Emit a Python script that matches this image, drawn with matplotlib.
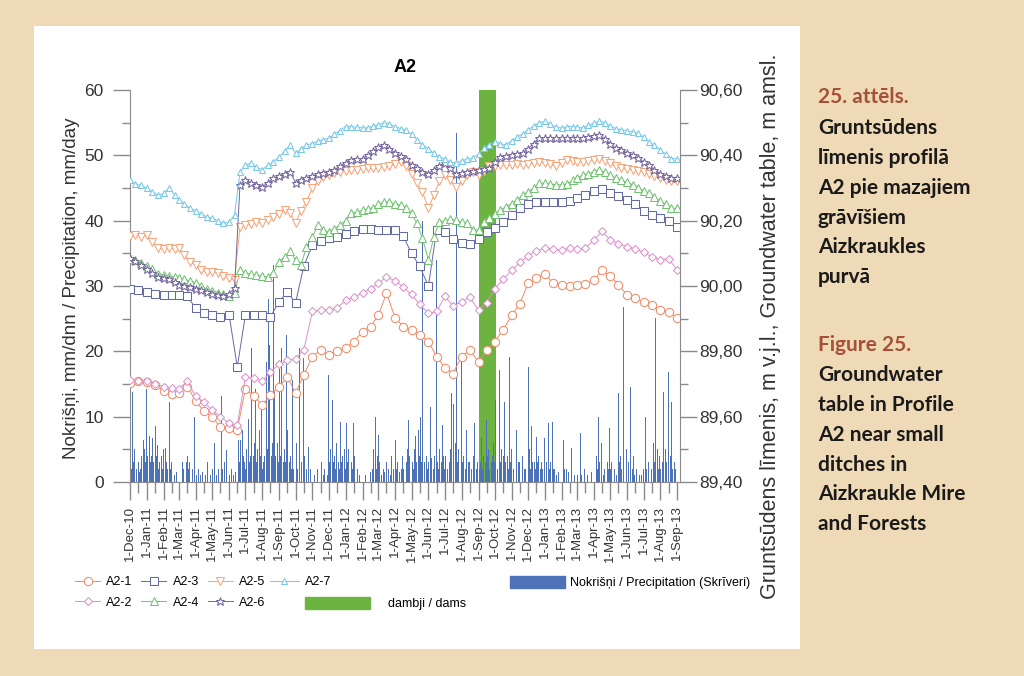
import matplotlib
matplotlib.use("Agg")
import matplotlib.pyplot as plt
import matplotlib.dates as mdates
from matplotlib.ticker import MultipleLocator, FuncFormatter
from matplotlib.lines import Line2D
from matplotlib.patches import Patch, Rectangle
import pandas as pd

plt.rcParams['font.family'] = ['Liberation Sans', 'DejaVu Sans']

# ---------------- data ----------------
month_starts = pd.date_range("2010-12-01", "2013-08-01", freq="MS")
semi_dates = [d + pd.Timedelta(days=k) for d in month_starts for k in (0, 15)] + [pd.Timestamp("2013-09-01")]
dec_dates = [d + pd.Timedelta(days=k) for d in month_starts for k in (0, 10, 20)] + [pd.Timestamp("2013-09-01")]

# groundwater table, m a.s.l. (semi-monthly readings)
a2_1 = [89.704, 89.708, 89.706, 89.696, 89.680, 89.668, 89.672, 89.692, 89.648, 89.616,
        89.600, 89.568, 89.564, 89.560, 89.686, 89.662, 89.636, 89.666, 89.692, 89.722,
        89.672, 89.728, 89.784, 89.804, 89.788, 89.800, 89.810, 89.830, 89.860, 89.876,
        89.910, 89.978, 89.902, 89.876, 89.864, 89.850, 89.830, 89.784, 89.750, 89.732,
        89.784, 89.804, 89.768, 89.804, 89.830, 89.866, 89.910, 89.946, 90.008, 90.024,
        90.038, 90.008, 90.004, 90.000, 90.004, 90.006, 90.018, 90.048, 90.030, 90.004,
        89.972, 89.962, 89.952, 89.942, 89.926, 89.920, 89.902]
a2_2 = [89.712, 89.710, 89.708, 89.700, 89.692, 89.688, 89.686, 89.708, 89.662, 89.644,
        89.620, 89.600, 89.580, 89.574, 89.722, 89.718, 89.708, 89.738, 89.760, 89.772,
        89.778, 89.804, 89.922, 89.926, 89.928, 89.932, 89.956, 89.966, 89.978, 89.992,
        90.008, 90.028, 90.016, 89.996, 89.974, 89.944, 89.916, 89.922, 89.968, 89.940,
        89.950, 89.966, 89.926, 89.948, 89.992, 90.020, 90.048, 90.072, 90.092, 90.108,
        90.116, 90.112, 90.110, 90.116, 90.112, 90.116, 90.140, 90.168, 90.140, 90.130,
        90.120, 90.114, 90.104, 90.090, 90.080, 90.084, 90.048]
a2_3 = [89.992, 89.988, 89.982, 89.976, 89.972, 89.972, 89.972, 89.968, 89.932, 89.918,
        89.910, 89.906, 89.912, 89.752, 89.912, 89.912, 89.912, 89.906, 89.952, 89.982,
        89.948, 90.060, 90.126, 90.138, 90.146, 90.150, 90.160, 90.168, 90.176, 90.174,
        90.172, 90.172, 90.172, 90.152, 90.100, 90.060, 90.000, 90.170, 90.166, 90.144,
        90.132, 90.130, 90.144, 90.166, 90.178, 90.196, 90.216, 90.240, 90.250, 90.256,
        90.258, 90.258, 90.258, 90.260, 90.270, 90.280, 90.292, 90.298, 90.284, 90.274,
        90.264, 90.250, 90.230, 90.218, 90.208, 90.200, 90.182]
# (10-day readings)
a2_4 = [90.084, 90.080, 90.070, 90.060, 90.052, 90.038, 90.034, 90.030, 90.028,
        90.024, 90.020, 90.016, 90.010, 90.000, 89.990, 89.986, 89.980, 89.974,
        89.970, 89.978, 90.048, 90.040, 90.036, 90.034, 90.030, 90.028, 90.040,
        90.074, 90.090, 90.106, 90.080, 90.064, 90.120, 90.150, 90.186, 90.170,
        90.166, 90.176, 90.186, 90.200, 90.222, 90.226, 90.232, 90.236, 90.240,
        90.250, 90.258, 90.256, 90.252, 90.248, 90.240, 90.222, 90.192, 90.146,
        90.080, 90.150, 90.196, 90.200, 90.204, 90.202, 90.196, 90.192, 90.172,
        90.172, 90.196, 90.208, 90.220, 90.232, 90.242, 90.252, 90.264, 90.278,
        90.288, 90.300, 90.314, 90.316, 90.312, 90.310, 90.310, 90.312, 90.324,
        90.330, 90.340, 90.344, 90.350, 90.356, 90.348, 90.340, 90.330, 90.324,
        90.318, 90.310, 90.300, 90.292, 90.284, 90.272, 90.260, 90.250, 90.238,
        90.238]
a2_5 = [90.152, 90.156, 90.150, 90.156, 90.136, 90.116, 90.112, 90.116, 90.114,
        90.116, 90.096, 90.074, 90.064, 90.048, 90.044, 90.042, 90.040, 90.032,
        90.024, 90.018, 90.182, 90.186, 90.190, 90.196, 90.192, 90.202, 90.212,
        90.220, 90.232, 90.224, 90.192, 90.230, 90.258, 90.300, 90.320, 90.334,
        90.340, 90.346, 90.350, 90.352, 90.356, 90.356, 90.358, 90.360, 90.360,
        90.362, 90.364, 90.366, 90.372, 90.380, 90.368, 90.344, 90.316, 90.288,
        90.238, 90.278, 90.320, 90.340, 90.324, 90.304, 90.320, 90.340, 90.350,
        90.340, 90.352, 90.366, 90.368, 90.370, 90.370, 90.370, 90.372, 90.370,
        90.372, 90.376, 90.380, 90.376, 90.372, 90.366, 90.376, 90.386, 90.382,
        90.380, 90.380, 90.384, 90.386, 90.390, 90.384, 90.376, 90.366, 90.360,
        90.358, 90.356, 90.352, 90.348, 90.344, 90.336, 90.332, 90.326, 90.320,
        90.320]
a2_6 = [90.086, 90.076, 90.064, 90.052, 90.040, 90.028, 90.024, 90.020, 90.012,
        90.004, 90.000, 89.996, 89.992, 89.988, 89.982, 89.976, 89.972, 89.968,
        89.976, 89.994, 90.310, 90.324, 90.316, 90.310, 90.304, 90.316, 90.330,
        90.336, 90.344, 90.350, 90.316, 90.324, 90.330, 90.336, 90.342, 90.346,
        90.350, 90.356, 90.366, 90.376, 90.386, 90.388, 90.390, 90.400, 90.412,
        90.424, 90.432, 90.420, 90.408, 90.398, 90.388, 90.370, 90.360, 90.350,
        90.344, 90.356, 90.368, 90.376, 90.360, 90.344, 90.346, 90.350, 90.352,
        90.356, 90.358, 90.360, 90.380, 90.396, 90.398, 90.400, 90.404, 90.406,
        90.420, 90.436, 90.452, 90.452, 90.452, 90.452, 90.452, 90.454, 90.452,
        90.452, 90.452, 90.456, 90.460, 90.462, 90.450, 90.436, 90.422, 90.416,
        90.408, 90.400, 90.392, 90.380, 90.370, 90.356, 90.344, 90.336, 90.330,
        90.330]
a2_7 = [90.324, 90.312, 90.308, 90.300, 90.288, 90.278, 90.284, 90.300, 90.278,
        90.264, 90.252, 90.238, 90.230, 90.220, 90.212, 90.208, 90.200, 90.192,
        90.196, 90.218, 90.350, 90.370, 90.376, 90.364, 90.356, 90.370, 90.380,
        90.396, 90.412, 90.432, 90.406, 90.420, 90.432, 90.436, 90.444, 90.448,
        90.452, 90.464, 90.476, 90.488, 90.488, 90.486, 90.484, 90.484, 90.490,
        90.494, 90.500, 90.496, 90.488, 90.482, 90.478, 90.464, 90.448, 90.432,
        90.420, 90.406, 90.396, 90.388, 90.380, 90.376, 90.384, 90.388, 90.392,
        90.404, 90.422, 90.432, 90.442, 90.436, 90.432, 90.444, 90.456, 90.466,
        90.478, 90.490, 90.500, 90.504, 90.496, 90.486, 90.484, 90.488, 90.488,
        90.486, 90.484, 90.492, 90.498, 90.504, 90.500, 90.490, 90.482, 90.478,
        90.476, 90.472, 90.468, 90.456, 90.440, 90.432, 90.416, 90.404, 90.390,
        90.390]

# daily precipitation, mm/day (Skrīveri): month -> (day, mm)
precip = {
    "2010-12": [(2, 4), (4, 2), (6, 13.8), (8, 3), (10, 5), (13, 2), (16, 3), (19, 1.5), (21, 2), (23, 4), (25, 6.5), (28, 5), (30, 3)],
    "2011-01": [(1, 14.3), (3, 4), (5, 7), (7, 3), (9, 4), (12, 6.7), (14, 3), (16, 8.5), (18, 4), (20, 5.6), (22, 2), (24, 3), (27, 4), (29, 2)],
    "2011-02": [(1, 5), (4, 5.2), (6, 3), (8, 2), (12, 12.3), (14, 2), (16, 3), (20, 1), (24, 1.5)],
    "2011-03": [(1, 1), (7, 3), (10, 2), (12, 4.9), (14, 3), (16, 4), (18, 2), (20, 3), (25, 2), (30, 10)],
    "2011-04": [(2, 1), (5, 2), (10, 1), (14, 1.5), (18, 1), (23, 3), (27, 1)],
    "2011-05": [(1, 2), (6, 5.9), (9, 1), (12, 2), (18, 13.1), (20, 2), (23, 3), (28, 4.9)],
    "2011-06": [(2, 1), (5, 2), (9, 1), (13, 1.5), (18, 6.4), (20, 3), (22, 6.4), (25, 8), (27, 4), (29, 3)],
    "2011-07": [(1, 2), (3, 5), (6, 9.7), (8, 3), (10, 4), (13, 20.5), (15, 4), (17, 6), (19, 14.3), (21, 3), (23, 5), (26, 8), (28, 4), (30, 11)],
    "2011-08": [(1, 2), (3, 3), (5, 4), (8, 18.4), (10, 5), (12, 28), (15, 21), (17, 4), (19, 6), (21, 33.2), (24, 14), (26, 4), (28, 6), (30, 3)],
    "2011-09": [(1, 18.4), (3, 4), (6, 20.5), (8, 3), (10, 5), (12, 3), (14, 22.5), (17, 8), (19, 3), (21, 4), (23, 2), (26, 15.6), (28, 2), (30, 3)],
    "2011-10": [(3, 6), (5, 2), (9, 20.5), (12, 3), (15, 19), (18, 4), (21, 2), (24, 5.4), (29, 2)],
    "2011-11": [(4, 1), (11, 2), (18, 3), (21, 1), (24, 2), (28, 1), (30, 16.4)],
    "2011-12": [(2, 3), (4, 5), (7, 12.6), (9, 3), (11, 4), (13, 2), (15, 6), (18, 3), (20, 2), (22, 9.2), (24, 3), (26, 4), (29, 5), (31, 2)],
    "2012-01": [(3, 9), (5, 3), (7, 5), (9, 2), (11, 3), (13, 2), (15, 9), (18, 4), (22, 2), (27, 1)],
    "2012-02": [(6, 1), (15, 1.5), (19, 2), (21, 5), (24, 10), (26, 2), (28, 4)],
    "2012-03": [(1, 7.2), (4, 3), (7, 1), (10, 2), (13, 1.5), (16, 3.1), (20, 2), (23, 1), (26, 4), (29, 2)],
    "2012-04": [(1, 6.4), (3, 2), (6, 3), (9, 1.5), (12, 2), (15, 4), (17, 2), (19, 15.6), (21, 3), (23, 5), (25, 9.5), (28, 4), (30, 2)],
    "2012-05": [(2, 3), (4, 2), (6, 5), (9, 7), (11, 3), (13, 8), (15, 4), (17, 10), (19, 3), (22, 40), (25, 3), (28, 4), (30, 2)],
    "2012-06": [(1, 3), (4, 11.5), (7, 3.6), (10, 2), (12, 4), (15, 34), (18, 3), (20, 2), (22, 5), (25, 3), (27, 8.7), (29, 4)],
    "2012-07": [(1, 2), (3, 4), (6, 2), (9, 3), (12, 5), (14, 13.6), (17, 12), (20, 6), (23, 53.4), (25, 3), (27, 5), (29, 2)],
    "2012-08": [(1, 18.4), (3, 3), (5, 4), (8, 2), (10, 8), (13, 3), (16, 3), (19, 2), (22, 4), (25, 9), (28, 2), (30, 3)],
    "2012-09": [(2, 2), (4, 3), (6, 6.9), (8, 2), (10, 4), (13, 3), (15, 9.5), (17, 4), (19, 5), (22, 2), (25, 3), (27, 4), (29, 6)],
    "2012-10": [(1, 3), (3, 12.6), (6, 2), (9, 17.1), (11, 3), (13, 5), (16, 4), (18, 12.3), (21, 3), (24, 4), (26, 2), (28, 19.2), (30, 3)],
    "2012-11": [(1, 5), (4, 2), (7, 9.2), (10, 8), (13, 3), (16, 3), (18, 2), (21, 4), (24, 2), (27, 2)],
    "2012-12": [(1, 17.6), (4, 5), (6, 2), (8, 8.5), (10, 3), (12, 3), (15, 2), (17, 6.9), (19, 3), (21, 4), (23, 2), (25, 3), (28, 2)],
    "2013-01": [(1, 6.7), (4, 3), (7, 9), (9, 2), (11, 3), (14, 9.2), (16, 2), (18, 2), (22, 1), (25, 1.5)],
    "2013-02": [(4, 6.4), (6, 2), (9, 2), (13, 1.5), (16, 1), (19, 5.2), (24, 1)],
    "2013-03": [(1, 1), (7, 7.5), (10, 1), (14, 2), (21, 1), (27, 1.5)],
    "2013-04": [(5, 4), (7, 2), (9, 10), (12, 3), (15, 5.9), (18, 1), (20, 2), (25, 3), (28, 2), (30, 8.2)],
    "2013-05": [(2, 2), (4, 3), (9, 2), (12, 1), (16, 13.6), (18, 3), (20, 4), (22, 2), (25, 26.8), (28, 2), (30, 5)],
    "2013-06": [(3, 3), (7, 14.6), (10, 2), (12, 4), (15, 1), (18, 2), (23, 1), (27, 1)],
    "2013-07": [(1, 2), (4, 10), (7, 2), (10, 3), (15, 2), (19, 6), (21, 3), (23, 25.1), (26, 5), (28, 2), (31, 4)],
    "2013-08": [(2, 2), (4, 3), (7, 13.8), (10, 5), (13, 3), (16, 16.9), (19, 4), (22, 12.3), (24, 2), (26, 3), (29, 2)],
}

dam_start = "2012-09-01"
dam_end = "2012-10-03"

labels = ["A2-1", "A2-2", "A2-3", "A2-4", "A2-5", "A2-6", "A2-7"]
values = [a2_1, a2_2, a2_3, a2_4, a2_5, a2_6, a2_7]
dates = [semi_dates, semi_dates, semi_dates, dec_dates, dec_dates, dec_dates, dec_dates]

# ---------------- styles ----------------
colors = ["#F08C68", "#D893CA", "#646AA2", "#74C274", "#F5A67A", "#74659F", "#78C8E8"]
markers = ["o", "D", "s", "^", "v", "*", "^"]
msizes = [6.0, 4.2, 6.2, 5.2, 5.2, 6.4, 4.0]
blue = "#4E72B8"
green = "#6DB33F"
grey = "#8a8a8a"
txt = "#333333"

fig = plt.figure(figsize=(10.24, 6.76), dpi=100)
fig.patch.set_facecolor("#EFDAB7")
fig.patches.append(Rectangle((34 / 1024, 27 / 676), 766 / 1024, 623 / 676,
                             transform=fig.transFigure, facecolor="white",
                             edgecolor="none", zorder=-1))

ax = fig.add_axes([130 / 1024, 194 / 676, 550 / 1024, 392 / 676])
ax2 = ax.twinx()

# dams period and precipitation
ax.axvspan(pd.Timestamp(dam_start), pd.Timestamp(dam_end), color=green, lw=0, zorder=1)
p_dates = [pd.Timestamp(f"{m}-{d:02d}") for m, lst in precip.items() for d, v in lst]
p_vals = [v for m, lst in precip.items() for d, v in lst]
ax.bar(p_dates, p_vals, width=1.8, color=blue, lw=0, zorder=2)

for lab, dts, vals, c, mk, ms in zip(labels, dates, values, colors, markers, msizes):
    ax2.plot(dts[:len(vals)], vals, color=c, lw=0.7, marker=mk, ms=ms,
             mfc="white", mec=c, mew=0.75, label=lab)

ax.set_xlim(pd.Timestamp("2010-12-01"), pd.Timestamp("2013-09-06"))
ax.set_ylim(0, 60)
ax2.set_ylim(89.40, 90.60)

ax.yaxis.set_major_locator(MultipleLocator(10))
ax.yaxis.set_minor_locator(MultipleLocator(5))
ax2.yaxis.set_major_locator(MultipleLocator(0.2))
ax2.yaxis.set_minor_locator(MultipleLocator(0.1))
ax2.yaxis.set_major_formatter(FuncFormatter(lambda v, p: f"{v:.2f}".replace(".", ",")))

ax.xaxis.set_major_locator(mdates.MonthLocator(bymonthday=1))
ax.xaxis.set_minor_locator(mdates.MonthLocator(bymonthday=16))
def fmt_date(v, p):
    d = mdates.num2date(v)
    return f"{d.day}-{d.strftime('%b')}-{d.strftime('%y')}"
ax.xaxis.set_major_formatter(FuncFormatter(fmt_date))

for s in ["top", "right"]:
    ax.spines[s].set_visible(False)
for s in ["top", "left", "bottom"]:
    ax2.spines[s].set_visible(False)
for s in ["left", "bottom"]:
    ax.spines[s].set_color(grey)
ax2.spines["right"].set_color(grey)

ax.tick_params(axis="y", which="major", length=12, width=1, color=grey,
               labelsize=12.5, labelcolor=txt, pad=7)
ax.tick_params(axis="y", which="minor", length=6, width=1, color=grey)
ax2.tick_params(axis="y", which="major", length=12, width=1, color=grey,
                labelsize=12.5, labelcolor=txt, pad=2)
ax2.tick_params(axis="y", which="minor", length=6, width=1, color=grey)
ax.tick_params(axis="x", which="major", length=13, width=1, color=grey,
               labelsize=9.5, labelcolor=txt, labelrotation=90, pad=4)
ax.tick_params(axis="x", which="minor", length=8, width=1, color=grey)

ax.set_title("A2", fontsize=13, fontweight="bold", pad=13)
ax.set_ylabel("Nokrišņi, mm/dnn / Precipitation, mm/day", fontsize=13.5,
              color=txt, ha="center", va="center")
ax.yaxis.set_label_coords(-0.107, 0.494)
ax2.set_ylabel("Gruntsūdens līmenis, m v.j.l., Groundwater table, m amsl.",
               fontsize=15.5, color=txt, ha="center", va="center", rotation=90)
ax2.yaxis.set_label_coords(1.164, 0.398)

# ---------------- legend ----------------
handles = [Line2D([], [], color=c, lw=0.7, marker=mk, ms=ms, mfc="white", mec=c, mew=0.75)
           for c, mk, ms in zip(colors, markers, msizes)]
common = dict(frameon=False, fontsize=9, borderpad=0, borderaxespad=0, loc="upper left")
row1 = 1 - 576 / 676
row2 = 1 - 597 / 676
fig.legend(handles[:6], labels[:6], ncol=3, bbox_to_anchor=(75 / 1024, row1),
           handlelength=2.0, handletextpad=0.5, columnspacing=0.7, labelspacing=0.7, **common)
fig.legend(handles[6:], labels[6:], bbox_to_anchor=(270 / 1024, row1),
           handlelength=2.3, handletextpad=0.5, **common)
fig.legend([Patch(color=green)], ["dambji / dams"], bbox_to_anchor=(305 / 1024, row2),
           handlelength=5.2, handleheight=1.1, handletextpad=1.4, **common)
fig.legend([Patch(color=blue)], ["Nokrišņi / Precipitation (Skrīveri)"],
           bbox_to_anchor=(510 / 1024, row1),
           handlelength=4.4, handleheight=1.1, handletextpad=0.4, **common)

# ---------------- caption ----------------
cap = [("25. attēls.", 97, "#A4503A"), ("Gruntsūdens", 128, "#1a1a1a"),
       ("līmenis profilā", 158, "#1a1a1a"), ("A2 pie mazajiem", 188, "#1a1a1a"),
       ("grāvīšiem", 218, "#1a1a1a"), ("Aizkraukles", 247, "#1a1a1a"),
       ("purvā", 277, "#1a1a1a"), ("Figure 25.", 345, "#A4503A"),
       ("Groundwater", 375, "#1a1a1a"), ("table in Profile", 405, "#1a1a1a"),
       ("A2 near small", 435, "#1a1a1a"), ("ditches in", 465, "#1a1a1a"),
       ("Aizkraukle Mire", 494, "#1a1a1a"), ("and Forests", 524, "#1a1a1a")]
for s, y, c in cap:
    fig.text(818 / 1024, 1 - y / 676, s, fontsize=15, fontweight="bold",
             family=["Lato", "DejaVu Sans"], color=c, ha="left", va="center")

fig.savefig("out.png", dpi=100, facecolor=fig.get_facecolor())
